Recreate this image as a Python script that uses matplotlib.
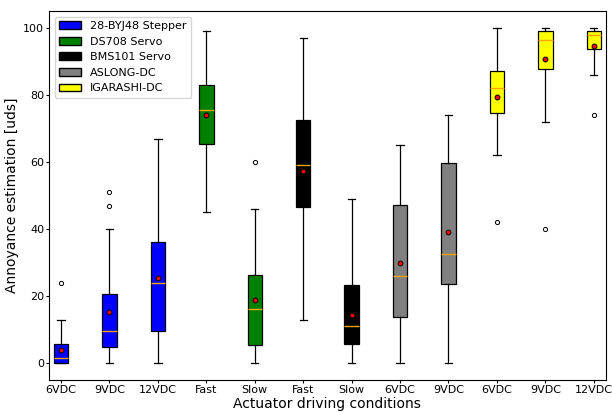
import matplotlib
matplotlib.use('Agg')
import matplotlib.pyplot as plt
from matplotlib.patches import Patch

# condiciones de accionamiento
labels = ['6VDC', '9VDC', '12VDC', 'Fast', 'Slow', 'Fast', 'Slow',
          '6VDC', '9VDC', '6VDC', '9VDC', '12VDC']
whislo = [0, 0, 0, 45, 0, 13, 0, 0, 0, 62, 72, 86]
q1 = [0, 4.7, 9.5, 65.5, 5.5, 46.5, 5.6, 13.7, 23.7, 74.7, 87.7, 93.7]
med = [1.5, 9.5, 24, 75.5, 16, 59, 11, 25.9, 32.4, 82, 96.5, 98]
q3 = [5.6, 20.5, 36, 83, 26.3, 72.5, 23.3, 47.3, 59.8, 87.1, 99.2, 99.2]
whishi = [13, 40, 67, 99, 46, 97, 49, 65, 74, 100, 100, 100]
means = [4, 15.2, 25.5, 74, 18.8, 57.3, 14.3, 30, 39.2, 79.3, 90.7, 94.7]
fliers = [[24], [47, 51], [], [], [60], [], [], [], [], [42], [40], [74]]

actuators = ['28-BYJ48 Stepper', 'DS708 Servo', 'BMS101 Servo', 'ASLONG-DC', 'IGARASHI-DC']
act_colors = ['blue', 'green', 'black', 'gray', 'yellow']
box_actuator = [0, 0, 0, 1, 1, 2, 2, 3, 3, 4, 4, 4]

stats = []
for i in range(len(labels)):
    stats.append({
        'whislo': whislo[i], 'q1': q1[i], 'med': med[i], 'q3': q3[i],
        'whishi': whishi[i], 'mean': means[i], 'fliers': fliers[i],
    })

fig = plt.figure(figsize=(6.12, 4.12), dpi=100)
ax = fig.add_axes([0.08, 0.078, 0.91, 0.895])

bp = ax.bxp(stats, positions=range(1, len(labels) + 1), widths=0.3,
            patch_artist=True, showmeans=True,
            meanprops=dict(marker='o', markerfacecolor='red', markeredgecolor='black',
                           markersize=3.5, markeredgewidth=0.7),
            flierprops=dict(marker='o', markerfacecolor='white', markeredgecolor='black',
                            markersize=3, markeredgewidth=0.7),
            medianprops=dict(color='orange', linewidth=1),
            boxprops=dict(edgecolor='black', linewidth=0.9),
            whiskerprops=dict(linewidth=0.9),
            capprops=dict(linewidth=0.9))

for patch, a in zip(bp['boxes'], box_actuator):
    patch.set_facecolor(act_colors[a])

ax.set_xticks(range(1, len(labels) + 1))
ax.set_xticklabels(labels)
ax.tick_params(labelsize=8, length=2, pad=1.5)
ax.set_xlim(0.75, 12.25)
ax.set_ylim(-5, 105)
ax.set_yticks([0, 20, 40, 60, 80, 100])
ax.set_xlabel('Actuator driving conditions', fontsize=10, labelpad=1.5)
ax.set_ylabel('Annoyance estimation [uds]', fontsize=10, labelpad=3)

handles = [Patch(facecolor=c, edgecolor='black', label=n) for n, c in zip(actuators, act_colors)]
ax.legend(handles=handles, loc='upper left', fontsize=8)

fig.savefig('out.png', dpi=100)
